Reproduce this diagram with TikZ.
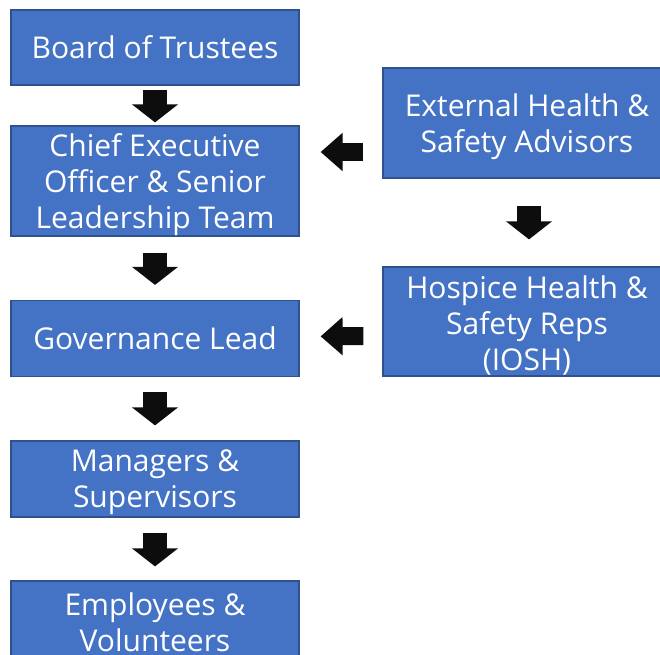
\documentclass[tikz,border=0pt]{standalone}
\usepackage{fontspec}
\setmainfont{Open Sans}
\usetikzlibrary{arrows.meta}
\definecolor{boxfill}{HTML}{4472C4}
\definecolor{boxline}{HTML}{2F528F}
\definecolor{arrowfill}{HTML}{0D0D0D}
\tikzset{
  box/.style={draw=boxline, line width=1.2pt, fill=boxfill, text=white,
    minimum width=288pt, inner sep=0pt, align=center,
    font=\fontsize{30}{36}\selectfont},
  boxtext/.style={text=white, inner sep=0pt, align=center,
    font=\fontsize{30}{36}\selectfont, yshift=-3.5pt},
  downarrow/.style={draw=arrowfill, line width=24pt,
    -{Triangle[width=45pt,length=18pt]}},
  leftarrow/.style={draw=arrowfill, line width=18pt,
    -{Triangle[width=37pt,length=22pt]}}
}
\begin{document}
\begin{tikzpicture}[x=1pt,y=-1pt]
\useasboundingbox (0,0) rectangle (660,654);
\clip (0,0) rectangle (660,654);
\node[box, minimum height=75pt] (b1) at (155,47.5) {Board of Trustees};
\node[box, minimum height=110pt, label={[boxtext]center:Chief Executive\\Officer \& Senior\\Leadership Team}] (b2) at (155,181) {};
\node[box, minimum height=76pt] (b3) at (155,338.5) {Governance Lead};
\node[box, minimum height=76pt, label={[boxtext]center:Managers \&\\Supervisors}] (b4) at (155,479) {};
\node[box, minimum height=76pt, label={[boxtext]center:Employees \&\\Volunteers}] (b5) at (155,619) {};
\node[box, minimum height=110pt, label={[boxtext]center:External Health \&\\Safety Advisors}] (r1) at (527,123) {};
\node[box, minimum height=109pt, label={[boxtext]center:Hospice Health \&\\Safety Reps\\(IOSH)}] (r2) at (527,321.5) {};
\draw[downarrow, shorten <=4pt, shorten >=3pt] (b1.south) -- (b2.north);
\draw[downarrow, shorten <=16pt, shorten >=15pt] (b2.south) -- (b3.north);
\draw[downarrow, shorten <=15pt, shorten >=15pt] (b3.south) -- (b4.north);
\draw[downarrow, shorten <=15pt, shorten >=14pt] (b4.south) -- (b5.north);
\draw[downarrow, shorten <=27pt, shorten >=27pt] ([xshift=2pt]r1.south) -- ([xshift=2pt]r2.north);
\draw[leftarrow, shorten <=19pt, shorten >=21pt] ([yshift=-29pt]r1.west) -- ([yshift=29pt]b2.east);
\draw[leftarrow, shorten <=19pt, shorten >=21pt] ([yshift=-14.5pt]r2.west) -- ([yshift=2pt]b3.east);
\end{tikzpicture}
\end{document}
